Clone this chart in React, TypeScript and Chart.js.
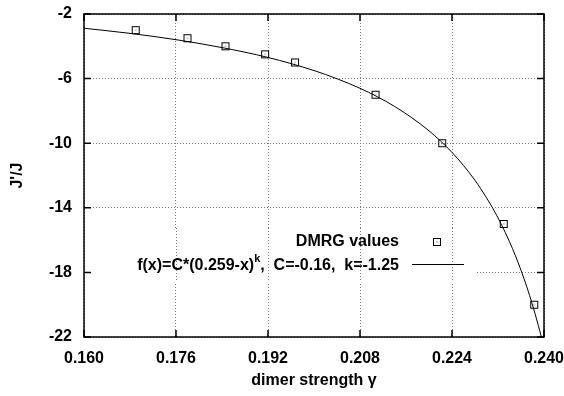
import React, { useEffect, useRef } from 'react';
import { Chart, registerables } from 'chart.js';

Chart.register(...registerables);

// ---- data ----
const X_TICKS = [0.160, 0.176, 0.192, 0.208, 0.224, 0.240];
const Y_TICKS = [-2, -6, -10, -14, -18, -22];

const DMRG_X = [0.169, 0.178, 0.1846, 0.1915, 0.1967, 0.2107, 0.2223, 0.2330, 0.2383];
const DMRG_Y = [-3, -3.5, -4, -4.5, -5, -7, -10, -15, -20];

const FIT_X = [0.160, 0.168, 0.176, 0.184, 0.192, 0.200, 0.204, 0.208, 0.211, 0.214, 0.217, 0.220, 0.222, 0.224, 0.226, 0.228, 0.229, 0.231, 0.2325, 0.234, 0.235, 0.236, 0.237, 0.238, 0.239, 0.2395, 0.240];
const FIT_Y = [-2.88, -3.20, -3.59, -4.08, -4.69, -5.50, -6.01, -6.60, -7.12, -7.72, -8.42, -9.23, -9.86, -10.57, -11.38, -12.30, -12.82, -13.97, -14.97, -16.10, -16.94, -17.87, -18.88, -20.02, -21.27, -21.95, -22.67];

const LABEL_POINTS = 'DMRG values';
const LABEL_FIT_MAIN = 'f(x)=C*(0.259-x)';
const LABEL_FIT_SUP = 'k';
const LABEL_FIT_TAIL = ',  C=-0.16,  k=-1.25';
const X_TITLE = 'dimer strength γ';
const Y_TITLE = "J'/J";

const FONT_FAMILY = '"Liberation Sans", Arial, Helvetica, sans-serif';
const GRID_COLOR = '#7a7a7a';

function makeSquare(): HTMLCanvasElement {
  const c = document.createElement('canvas');
  c.width = 10;
  c.height = 10;
  const g = c.getContext('2d')!;
  g.strokeStyle = '#000';
  g.lineWidth = 1;
  g.strokeRect(1.5, 1.5, 7, 7);
  g.fillStyle = '#444';
  g.fillRect(4.5, 4.5, 1, 1);
  return c;
}

export default function App() {
  const ref = useRef<HTMLCanvasElement | null>(null);

  useEffect(() => {
    if (!ref.current) return;
    const square = makeSquare();

    const framePlugin = {
      id: 'gnuFrame',
      beforeDatasetsDraw(chart: any) {
        const { ctx, chartArea: a, scales } = chart;
        // legend background (hides horizontal grid line behind key)
        const rx0 = a.left + 1;
        const rx1 = 476;
        const ry0 = 228;
        const ry1 = 282;
        ctx.save();
        ctx.fillStyle = '#fff';
        ctx.fillRect(rx0, ry0, rx1 - rx0, ry1 - ry0);
        ctx.strokeStyle = GRID_COLOR;
        ctx.lineWidth = 1;
        ctx.setLineDash([1, 2]);
        for (const v of X_TICKS) {
          const px = Math.round(scales.x.getPixelForValue(v)) + 0.5;
          if (px > rx0 + 2 && px < rx1) {
            ctx.beginPath();
            ctx.moveTo(px, ry0);
            ctx.lineTo(px, ry1);
            ctx.stroke();
          }
        }
        ctx.restore();
      },
      afterDraw(chart: any) {
        const { ctx, chartArea: a, scales } = chart;
        ctx.save();
        ctx.strokeStyle = '#000';
        ctx.lineWidth = 1.5;
        ctx.setLineDash([]);
        ctx.strokeRect(a.left, a.top, a.right - a.left, a.bottom - a.top);
        const tl = 7;
        ctx.beginPath();
        for (const v of X_TICKS) {
          const px = scales.x.getPixelForValue(v);
          ctx.moveTo(px, a.bottom);
          ctx.lineTo(px, a.bottom - tl);
          ctx.moveTo(px, a.top);
          ctx.lineTo(px, a.top + tl);
        }
        for (const v of Y_TICKS) {
          const py = scales.y.getPixelForValue(v);
          ctx.moveTo(a.left, py);
          ctx.lineTo(a.left + tl, py);
          ctx.moveTo(a.right, py);
          ctx.lineTo(a.right - tl, py);
        }
        ctx.stroke();

        // key
        const textRight = 399;
        const y1 = 242;
        const y2 = 266;
        ctx.fillStyle = '#000';
        ctx.textBaseline = 'middle';
        ctx.textAlign = 'right';
        ctx.font = `bold 16px ${FONT_FAMILY}`;
        ctx.fillText(LABEL_POINTS, textRight, y1);
        const wTail = ctx.measureText(LABEL_FIT_TAIL).width;
        ctx.fillText(LABEL_FIT_TAIL, textRight, y2);
        ctx.font = `bold 11px ${FONT_FAMILY}`;
        const wSup = ctx.measureText(LABEL_FIT_SUP).width;
        ctx.fillText(LABEL_FIT_SUP, textRight - wTail, y2 - 7);
        ctx.font = `bold 16px ${FONT_FAMILY}`;
        ctx.fillText(LABEL_FIT_MAIN, textRight - wTail - wSup, y2);

        ctx.drawImage(square, 437 - 5, y1 - 5);
        ctx.lineWidth = 1;
        ctx.beginPath();
        ctx.moveTo(412, y2 - 1.5);
        ctx.lineTo(464, y2 - 1.5);
        ctx.stroke();
        ctx.restore();
      },
    };

    const tickFont = { family: FONT_FAMILY, size: 16, weight: 'bold' as const };

    const chart = new Chart(ref.current, {
      type: 'scatter',
      data: {
        datasets: [
          {
            label: LABEL_POINTS,
            data: DMRG_X.map((x, i) => ({ x, y: DMRG_Y[i] })),
            pointStyle: square as any,
            pointRadius: 5,
            showLine: false,
          },
          {
            label: 'fit',
            data: FIT_X.map((x, i) => ({ x, y: FIT_Y[i] })),
            showLine: true,
            pointRadius: 0,
            borderColor: '#000',
            borderWidth: 1,
            cubicInterpolationMode: 'monotone',
            fill: false,
          } as any,
        ],
      },
      options: {
        animation: false,
        responsive: false,
        events: [],
        layout: { padding: { top: 14, right: 20, left: 0, bottom: 0 } },
        plugins: {
          legend: { display: false },
          tooltip: { enabled: false },
        },
        scales: {
          x: {
            type: 'linear',
            min: 0.16,
            max: 0.24,
            afterBuildTicks: (s: any) => {
              s.ticks = X_TICKS.map((v) => ({ value: v }));
            },
            afterFit: (s: any) => {
              s.height = 59;
              s.paddingLeft = 0;
              s.paddingRight = 0;
            },
            ticks: {
              font: tickFont,
              color: '#000',
              padding: 12,
              maxRotation: 0,
              autoSkip: false,
              callback: (v: any) => Number(v).toFixed(3),
            },
            grid: { color: GRID_COLOR, lineWidth: 1, drawTicks: false },
            border: { display: false, dash: [1, 2] },
            title: {
              display: true,
              text: X_TITLE,
              color: '#000',
              font: { family: FONT_FAMILY, size: 16, weight: 'bold' },
              padding: { top: 0, bottom: 6 },
            },
          },
          y: {
            type: 'linear',
            min: -22,
            max: -2,
            afterBuildTicks: (s: any) => {
              s.ticks = Y_TICKS.map((v) => ({ value: v }));
            },
            afterFit: (s: any) => {
              s.width = 84;
              s.paddingTop = 0;
              s.paddingBottom = 0;
            },
            ticks: {
              font: tickFont,
              color: '#000',
              padding: 12,
              autoSkip: false,
              callback: (v: any) => String(v),
            },
            grid: { color: GRID_COLOR, lineWidth: 1, drawTicks: false },
            border: { display: false, dash: [1, 2] },
            title: {
              display: true,
              text: Y_TITLE,
              color: '#000',
              font: { family: FONT_FAMILY, size: 16, weight: 'bold' },
              padding: { top: 8, bottom: 0 },
            },
          },
        },
      },
      plugins: [framePlugin],
    });

    return () => chart.destroy();
  }, []);

  return (
    <div style={{ position: 'fixed', left: 0, top: 0, width: 564, height: 396, background: '#fff' }}>
      <canvas ref={ref} width={564} height={396} style={{ display: 'block' }} />
    </div>
  );
}
